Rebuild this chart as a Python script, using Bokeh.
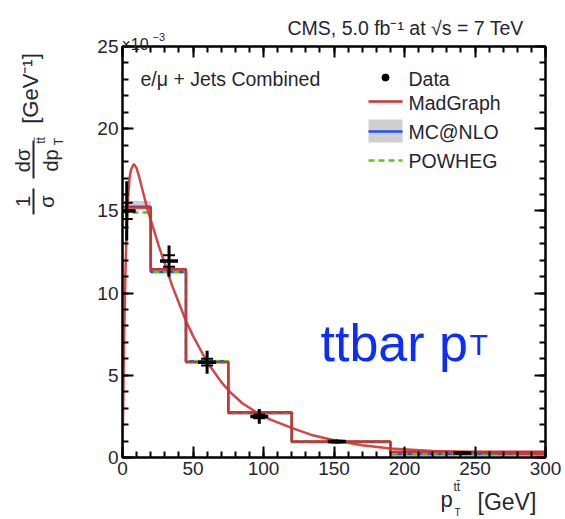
import math
from bokeh.plotting import figure
from bokeh.layouts import column
from bokeh.models import LinearAxis, FixedTicker, Label, Range1d
from bokeh.embed import file_html
from bokeh.resources import INLINE

# normalised differential cross section, units of 1e-3 GeV^-1
bin_edges = [0, 20, 45, 75, 120, 190, 300]
madgraph = [15.2, 11.45, 5.8, 2.75, 0.97, 0.35]
mcnlo = [15.25, 11.3, 5.85, 2.7, 0.95, 0.2]
mcnlo_lo = [15.05, 11.15, 5.75, 2.62, 0.9, 0.15]
mcnlo_hi = [15.6, 11.45, 5.95, 2.78, 1.0, 0.25]
powheg = [14.9, 11.3, 5.85, 2.7, 0.97, 0.25]

data_x = [3, 33, 60, 97, 152, 241]
data_y = [15.0, 11.95, 5.8, 2.5, 0.97, 0.28]
data_stat = [0.5, 0.35, 0.2, 0.12, 0.05, 0.03]
data_tot = [1.8, 0.95, 0.7, 0.45, 0.12, 0.06]

# smooth MadGraph prediction
curve_x = [0, 1, 2, 3, 4, 5, 6, 8, 10, 12, 15, 18, 22, 26, 30, 35, 40, 45, 50,
           55, 60, 65, 70, 76, 85, 95, 105, 120, 135, 150, 170, 190, 220, 250, 300]
curve_y = [0.0, 6.5, 11.0, 14.0, 15.9, 17.0, 17.5, 17.85, 17.6, 17.0, 16.0, 15.0,
           13.9, 12.8, 11.8, 10.5, 9.4, 8.3, 7.4, 6.6, 5.8, 5.2, 4.6, 4.0, 3.3,
           2.75, 2.3, 1.8, 1.35, 1.05, 0.75, 0.55, 0.4, 0.3, 0.2]

x_ticks = [0, 50, 100, 150, 200, 250, 300]
y_ticks = [0, 5, 10, 15, 20, 25]

FONT = "Liberation Sans"
TXT = "#262633"
RED = "#cc3333"
BLUE = "#1f4fff"
GREEN = "#55cc11"

FL, FR, FT, FB = 122, 545, 46, 457  # frame edges on the canvas
W, H = 565, 519

p = figure(width=W, height=H, x_range=Range1d(0, 300), y_range=Range1d(0, 25),
           x_axis_type=None, y_axis_type=None,
           min_border_left=FL, min_border_right=W - FR,
           min_border_top=FT, min_border_bottom=H - FB,
           output_backend="svg", toolbar_location=None)
p.outline_line_color = "black"
p.outline_line_width = 2
p.background_fill_color = "white"
p.border_fill_color = "white"
p.frame_align = False

xt = FixedTicker(ticks=x_ticks, minor_ticks=list(range(0, 301, 10)))
yt = FixedTicker(ticks=y_ticks, minor_ticks=list(range(0, 26)))


def style(ax, show_labels):
    ax.axis_line_color = "black"
    ax.axis_line_width = 2
    ax.major_tick_in = 11
    ax.major_tick_out = 0
    ax.minor_tick_in = 6
    ax.minor_tick_out = 0
    ax.major_tick_line_width = 2
    ax.minor_tick_line_width = 2
    ax.major_label_text_font = FONT
    ax.major_label_standoff = 4
    if show_labels:
        ax.major_label_text_color = TXT
        ax.major_label_text_font_size = "19px"
    else:
        # mirrored axis: ticks only
        ax.major_label_text_color = None
        ax.major_label_text_font_size = "1px"
        ax.major_label_standoff = 0


for loc, ticker, labels in (("below", xt, True), ("above", xt, False)):
    ax = LinearAxis(ticker=ticker)
    style(ax, labels)
    p.add_layout(ax, loc)
for loc, ticker, labels in (("left", yt, True), ("right", yt, False)):
    ax = LinearAxis(ticker=ticker)
    style(ax, labels)
    p.add_layout(ax, loc)


def steps(edges, vals):
    xs, ys = [], []
    for i, v in enumerate(vals):
        xs += [edges[i], edges[i + 1]]
        ys += [v, v]
    return xs, ys


# MC@NLO uncertainty band
p.quad(left=bin_edges[:-1], right=bin_edges[1:], bottom=mcnlo_lo, top=mcnlo_hi,
       fill_color="#cfcfcf", line_color=None)
sx, sy = steps(bin_edges, mcnlo)
p.line(sx, sy, line_color=BLUE, line_width=2.5)
sx, sy = steps(bin_edges, powheg)
p.line(sx, sy, line_color=GREEN, line_width=2.5, line_dash="6 4")
sx, sy = steps(bin_edges, madgraph)
p.line(sx, sy, line_color=RED, line_width=2.5)
p.line(curve_x, curve_y, line_color=RED, line_width=2.5, line_alpha=0.9)

# data with total (bar) and statistical (caps) uncertainties
p.segment(x0=data_x, x1=data_x,
          y0=[y - e for y, e in zip(data_y, data_tot)],
          y1=[y + e for y, e in zip(data_y, data_tot)],
          line_color="black", line_width=3)
p.scatter(data_x, [y - e for y, e in zip(data_y, data_stat)], marker="dash",
          size=12, line_color="black", line_width=2)
p.scatter(data_x, [y + e for y, e in zip(data_y, data_stat)], marker="dash",
          size=12, line_color="black", line_width=2)
p.scatter(data_x, data_y, marker="dash", size=18, line_color="black", line_width=3.5)


def to_x(px):
    return (px - FL) / (FR - FL) * 300


def to_y(py):
    return (FB - py) / (FB - FT) * 25


# legend symbols
LX0, LX1 = 368, 402
p.scatter(x=[to_x(385)], y=[to_y(77)], size=7, color="black")
p.line(x=[to_x(LX0), to_x(LX1)], y=[to_y(101)] * 2, line_color=RED, line_width=2.5)
p.quad(left=[to_x(LX0)], right=[to_x(LX1)], bottom=[to_y(142)], top=[to_y(119)],
       fill_color="#cfcfcf", line_color=None)
p.line(x=[to_x(LX0), to_x(LX1)], y=[to_y(131)] * 2, line_color=BLUE, line_width=2.5)
p.line(x=[to_x(LX0), to_x(LX1)], y=[to_y(160)] * 2, line_color=GREEN,
       line_width=2.5, line_dash="6 4")

# transparent text layer spanning the whole canvas, in pixel coordinates
t = figure(width=W, height=H, x_range=Range1d(0, W), y_range=Range1d(H, 0),
           x_axis_type=None, y_axis_type=None, min_border=0,
           output_backend="svg", toolbar_location=None)
t.outline_line_color = None
t.background_fill_color = None
t.border_fill_color = None
t.frame_align = False
t.margin = (-H, 0, 0, 0)


def lab(text, px, py, size, align="left", baseline="alphabetic", angle=0.0,
        color=TXT, font=FONT):
    t.add_layout(Label(x=px, y=py, text=text, text_font=font,
                       text_font_size=f"{size}px", text_color=color,
                       text_align=align, text_baseline=baseline, angle=angle))


lab("Data", 408, 78, 19.5, baseline="middle")
lab("MadGraph", 408, 102, 19.5, baseline="middle")
lab("MC@NLO", 408, 131, 19.5, baseline="middle")
lab("POWHEG", 408, 160, 19.5, baseline="middle")
lab("e/\u03bc + Jets Combined", 140, 78, 19.5, baseline="middle")

# header and exponent
lab("CMS, 5.0 fb\u207b\u00b9 at \u221as = 7 TeV", 287, 27, 19.5)
lab("\u00d710", 121, 44, 16)
lab("\u22123", 152, 36, 11)

# big annotation
lab("ttbar p", 320, 342, 52, color="#0d2cff")
lab("T", 469, 344, 30, color="#0d2cff")

# x axis title
lab("p", 440, 499, 22)
lab("t\u0074\u0304", 453, 486, 12)
lab("T", 454, 512, 10)
lab("[GeV]", 477, 501, 23)

# y axis title, rotated
R = math.pi / 2
lab("[GeV\u207b\u00b9]", 30, 88, 22, align="center", baseline="middle", angle=R)
lab("d\u03c3", 22, 160, 20, align="center", baseline="middle", angle=R)
lab("dp", 50, 160, 20, align="center", baseline="middle", angle=R)
lab("t\u0074\u0304", 40, 140, 12, align="center", baseline="middle", angle=R)
lab("T", 58, 141, 12, align="center", baseline="middle", angle=R)
lab("1", 22, 201, 20, align="center", baseline="middle", angle=R)
lab("\u03c3", 46, 201, 20, align="center", baseline="middle", angle=R)
t.segment(x0=[33, 33], x1=[33, 33], y0=[140, 188], y1=[178, 214],
          line_color=TXT, line_width=2)

layout = column(p, t, spacing=0)
out = file_html(layout, INLINE)
open("out.html", "w").write(out)
